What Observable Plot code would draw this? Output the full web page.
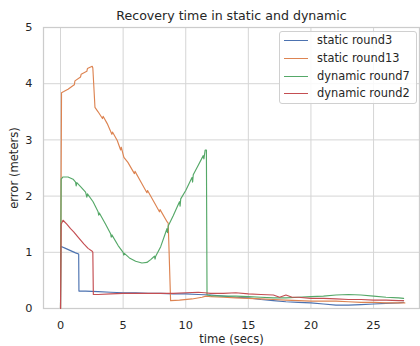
<!DOCTYPE html>
<html>
<head>
<meta charset="utf-8">
<script src="https://cdn.jsdelivr.net/npm/d3@7"></script>
<script src="https://cdn.jsdelivr.net/npm/@observablehq/plot@0.6"></script>
<style>
  html, body { margin: 0; padding: 0; background: white; }
  #wrap { position: relative; width: 420px; height: 346px; font-family: "DejaVu Sans", sans-serif; color: #262626; }
  #legend { position: absolute; left: 279px; top: 31px; width: 136px; height: 71px; border: 1px solid #d0d0d0; border-radius: 3px; background: rgba(255,255,255,0.85); }
  .row { position: absolute; left: 0; height: 14px; width: 136px; }
  .sw { position: absolute; left: 4px; top: 6px; width: 24px; height: 1.3px; }
  .lab { position: absolute; left: 37px; top: -1px; font-size: 11.4px; line-height: 14px; white-space: nowrap; }
</style>
</head>
<body>
<div id="wrap"></div>
<script>
const seriesNames = ["static round3", "static round13", "dynamic round7", "dynamic round2"];
const seriesColors = ["#4c72b0", "#dd8452", "#55a868", "#c44e52"];
const xTicks = [0, 5, 10, 15, 20, 25];
const yTicks = [0, 1, 2, 3, 4, 5];

const staticRound3X = [0, 0.02, 0.1, 0.4, 0.8, 1.2, 1.45, 1.47, 2, 3, 4, 5, 6, 7, 8, 9, 10, 11, 12, 13, 14, 15, 16, 17, 18, 19, 20, 21, 22, 23, 24, 25, 26, 27, 27.4];
const staticRound3Y = [0, 1.1, 1.1, 1.07, 1.03, 0.99, 0.97, 0.31, 0.31, 0.3, 0.29, 0.28, 0.28, 0.27, 0.27, 0.26, 0.26, 0.25, 0.24, 0.22, 0.2, 0.19, 0.16, 0.14, 0.12, 0.11, 0.1, 0.08, 0.06, 0.06, 0.07, 0.08, 0.09, 0.1, 0.11];

const staticRound13X = [0, 0.08, 0.26, 0.6, 0.9, 1.1, 1.15, 1.6, 1.65, 2.1, 2.15, 2.53, 2.58, 2.75, 3.0, 3.35, 3.4, 3.73, 4.1, 4.15, 4.53, 4.8, 4.85, 5.06, 5.38, 5.9, 5.95, 6.5, 6.9, 6.95, 7.5, 7.9, 7.95, 8.52, 8.6, 8.79, 9.5, 10.5, 11.3, 11.6, 12, 13, 14, 15, 16, 17, 18, 19, 20, 21, 22, 23, 24, 25, 26, 27, 27.5];
const staticRound13Y = [0, 3.84, 3.86, 3.9, 3.95, 3.98, 4.05, 4.12, 4.17, 4.22, 4.27, 4.31, 4.28, 3.58, 3.5, 3.38, 3.42, 3.29, 3.1, 3.14, 2.99, 2.82, 2.87, 2.69, 2.6, 2.4, 2.44, 2.22, 2.06, 2.1, 1.88, 1.72, 1.76, 1.54, 1.52, 0.14, 0.15, 0.17, 0.2, 0.22, 0.21, 0.2, 0.19, 0.18, 0.17, 0.16, 0.15, 0.14, 0.13, 0.13, 0.13, 0.12, 0.11, 0.11, 0.1, 0.1, 0.1];

const dynamicRound7X = [0, 0.05, 0.2, 0.6, 1.0, 1.2, 1.25, 1.3, 1.6, 2.0, 2.1, 2.15, 2.6, 3.0, 3.05, 3.1, 3.6, 4.0, 4.05, 4.1, 4.6, 5.0, 5.05, 5.1, 5.5, 6.0, 6.5, 6.9, 7.2, 7.5, 7.55, 7.6, 8.0, 8.5, 8.55, 8.6, 9.0, 9.5, 9.55, 9.6, 10.0, 10.5, 10.55, 10.6, 11.0, 11.4, 11.45, 11.55, 11.65, 11.7, 12, 13, 14, 15, 16, 17, 18, 19, 20, 21, 22, 23, 24, 25, 26, 27, 27.4];
const dynamicRound7Y = [0, 2.3, 2.34, 2.34, 2.3, 2.25, 2.18, 2.24, 2.17, 2.07, 1.98, 2.04, 1.9, 1.72, 1.66, 1.7, 1.5, 1.33, 1.27, 1.31, 1.12, 1.0, 0.95, 0.98, 0.9, 0.84, 0.81, 0.82, 0.87, 0.93, 0.88, 0.93, 1.1, 1.42, 1.35, 1.47, 1.65, 1.9, 1.82, 1.95, 2.1, 2.33, 2.25, 2.38, 2.55, 2.72, 2.66, 2.82, 2.82, 0.24, 0.23, 0.22, 0.22, 0.21, 0.2, 0.19, 0.19, 0.2, 0.21, 0.22, 0.24, 0.25, 0.24, 0.22, 0.2, 0.19, 0.18];

const dynamicRound2X = [0, 0.05, 0.2, 0.5, 0.8, 1.07, 1.4, 1.86, 2.2, 2.53, 2.58, 2.62, 3, 4, 5, 6, 7, 8, 9, 10, 11, 11.5, 12, 13, 14, 15, 16, 17, 17.5, 18, 18.5, 19, 20, 21, 22, 23, 24, 25, 26, 27, 27.4];
const dynamicRound2Y = [0, 1.5, 1.57, 1.5, 1.42, 1.36, 1.27, 1.15, 1.07, 1.02, 1.0, 0.25, 0.25, 0.26, 0.27, 0.27, 0.27, 0.27, 0.27, 0.28, 0.29, 0.28, 0.27, 0.27, 0.28, 0.26, 0.25, 0.24, 0.2, 0.24, 0.2, 0.2, 0.18, 0.18, 0.17, 0.16, 0.16, 0.15, 0.15, 0.14, 0.14];

const seriesX = [staticRound3X, staticRound13X, dynamicRound7X, dynamicRound2X];
const seriesY = [staticRound3Y, staticRound13Y, dynamicRound7Y, dynamicRound2Y];

const rows = [];
seriesNames.forEach((name, s) => {
  seriesX[s].forEach((x, i) => rows.push({series: name, x, y: seriesY[s][i]}));
});

const gridColor = "#d5d5d5";
const chart = Plot.plot({
  width: 420, height: 346,
  marginLeft: 43, marginRight: 1, marginTop: 27, marginBottom: 38,
  style: {fontFamily: "DejaVu Sans, sans-serif", fontSize: "11px", color: "#262626", background: "white", overflow: "visible"},
  x: {domain: [-1.36, 28.67], label: null},
  y: {domain: [0, 5], label: null},
  color: {domain: seriesNames, range: seriesColors},
  marks: [
    Plot.gridX(xTicks, {stroke: gridColor, strokeOpacity: 1, strokeWidth: 1}),
    Plot.gridY(yTicks, {stroke: gridColor, strokeOpacity: 1, strokeWidth: 1}),
    Plot.frame({stroke: "#cccccc", strokeWidth: 1.25}),
    Plot.axisX(xTicks, {tickSize: 0, tickPadding: 12, fontSize: 11.3, tickFormat: d => String(d), label: null}),
    Plot.axisY(yTicks, {tickSize: 0, tickPadding: 11, fontSize: 11.3, tickFormat: d => String(d), label: null}),
    Plot.line(rows, {x: "x", y: "y", z: "series", stroke: "series", strokeWidth: 1.15, curve: "linear"}),
    Plot.text(["Recovery time in static and dynamic"], {frameAnchor: "top", dy: -12, lineAnchor: "middle", textAnchor: "middle", fontSize: 12.6}),
    Plot.text(["time (secs)"], {frameAnchor: "bottom", dy: 31, lineAnchor: "middle", textAnchor: "middle", fontSize: 11.6}),
    Plot.text(["error (meters)"], {frameAnchor: "left", dx: -29, rotate: -90, lineAnchor: "middle", textAnchor: "middle", fontSize: 11.6})
  ]
});
const wrap = document.getElementById("wrap");
wrap.appendChild(chart);

const legend = document.createElement("div");
legend.id = "legend";
const rowTops = [2, 20, 38, 55];
seriesNames.forEach((name, i) => {
  const r = document.createElement("div");
  r.className = "row";
  r.style.top = rowTops[i] + "px";
  const sw = document.createElement("div");
  sw.className = "sw";
  sw.style.background = seriesColors[i];
  const lab = document.createElement("div");
  lab.className = "lab";
  lab.textContent = name;
  r.appendChild(sw); r.appendChild(lab);
  legend.appendChild(r);
});
wrap.appendChild(legend);
</script>
</body>
</html>
